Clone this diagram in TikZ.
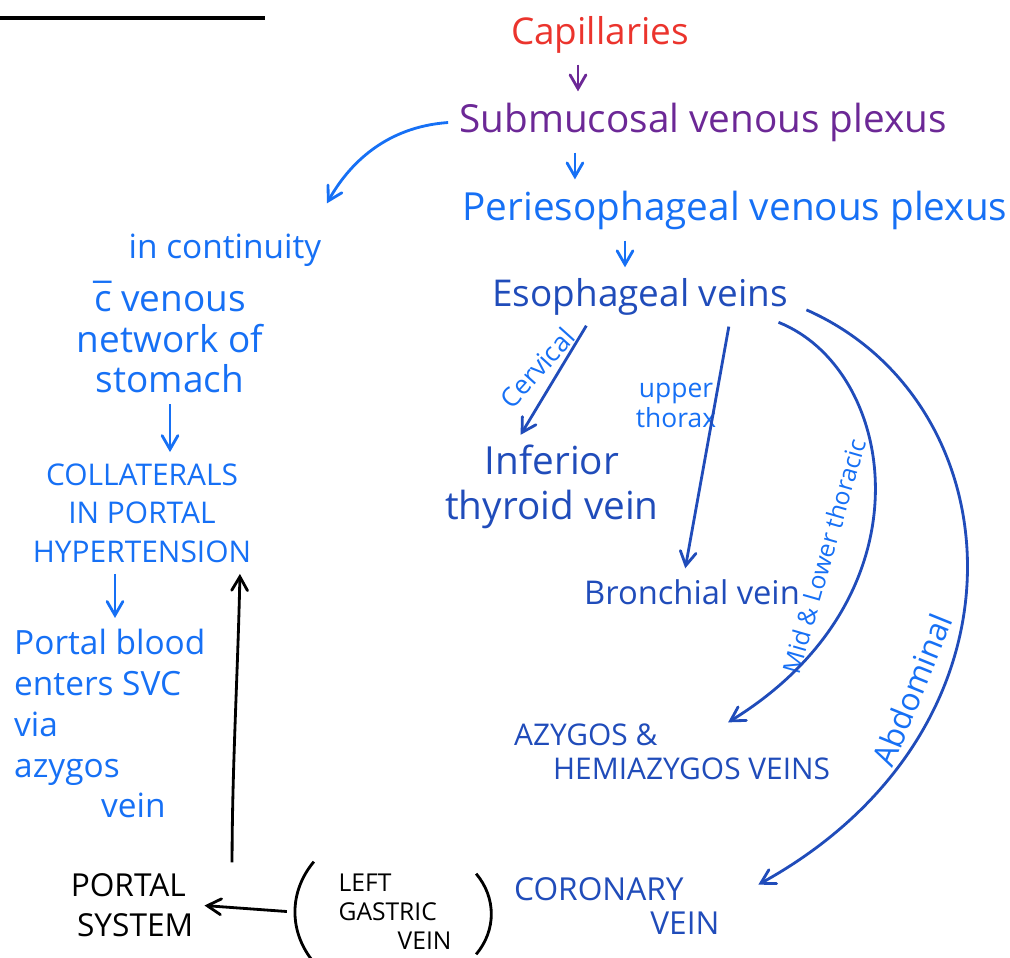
\documentclass[tikz,border=0pt]{standalone}
\usepackage{fontspec}
\setmainfont{Open Sans}
\usetikzlibrary{positioning,calc,arrows}
\definecolor{capred}{RGB}{235,52,45}
\definecolor{plexpurple}{RGB}{108,40,150}
\definecolor{lightblue}{RGB}{22,112,245}
\definecolor{darkblue}{RGB}{32,76,186}
\newcommand{\hw}[2]{\fontsize{#1}{#2}\selectfont}
\newcommand{\cbar}{\accent"AF c}
\tikzstyle{txt} = [inner sep=1pt]
\tikzstyle{tag} = [inner sep=1pt, text=lightblue]
\tikzstyle{to} = [->,>=angle 60,thick,shorten >=2pt,shorten <=2pt]

\begin{document}
\begin{tikzpicture}[x=0.01cm, y=-0.01cm]
	\useasboundingbox (0,0) rectangle (1010,957);
	\draw [line width=1.1pt] (0,18) -- (265,18);
	% main chain
	\node (cap) [txt, text=capred, font=\hw{10.5}{12}] at (600,35) {Capillaries};
	\node (smp) [txt, text=plexpurple, font=\hw{11}{13}] at (703,122) {Submucosal venous plexus};
	\node (pep) [txt, text=lightblue, font=\hw{11}{13}] at (735,210) {Periesophageal venous plexus};
	\node (esv) [txt, text=darkblue, font=\hw{10.5}{13}] at (640,297) {Esophageal veins};
	% left column
	\node (cont) [txt, text=lightblue, font=\hw{9.5}{12}] at (225,250) {in continuity};
	\node (net) [txt, text=lightblue, font=\hw{10.5}{11.5}, align=center] at (170,337) {\cbar{} venous\\network of\\stomach};
	\node (coll) [txt, text=lightblue, font=\hw{8.5}{11}, align=center] at (142,513) {COLLATERALS\\IN PORTAL\\HYPERTENSION};
	\node (portb) [txt, text=lightblue, font=\hw{9.5}{11.6}, align=left, anchor=north west] at (10,625) {Portal blood\\enters SVC\\via\\azygos\\\hspace*{2.6em}vein};
	\node (portsys) [txt, font=\hw{9}{11.3}, align=left] at (132,905) {PORTAL\\\hspace*{0.2em}SYSTEM};
	\node (lgv) [txt, font=\hw{7}{8.2}, align=left, inner xsep=0.32cm, inner ysep=0.12cm] at (395,912) {LEFT\\GASTRIC\\\hspace*{2.4em}VEIN};
	\node (cor) [txt, text=darkblue, font=\hw{9}{9.8}, align=left, anchor=north west] at (510,873) {CORONARY\\\hspace*{4.3em}VEIN};
	% right side
	\node (thy) [txt, text=darkblue, font=\hw{11}{12.8}, align=center] at (552,487) {Inferior\\thyroid vein};
	\node (bron) [txt, text=darkblue, font=\hw{9.3}{11}] at (692,592) {Bronchial vein};
	\node (azy) [txt, text=darkblue, font=\hw{8.5}{9.6}, align=left, anchor=north west] at (510,720) {AZYGOS \&\\\hspace*{1.3em}HEMIAZYGOS VEINS};
	% route labels
	\node (cerv) [tag, font=\hw{7.5}{9}, rotate=48] at (537,368) {Cervical};
	\node (upth) [tag, font=\hw{7.5}{8.5}, align=center] at (676,405) {upper\\thorax};
	\node (midlow) [tag, font=\hw{7}{9}, rotate=74] at (824,556) {Mid \& Lower thoracic};
	\node (abdo) [tag, font=\hw{9}{11}, rotate=68] at (912,690) {Abdominal};
	% arrows
	\draw [to, plexpurple] ([xshift=-0.22cm]cap.south) -- ([xshift=-0.22cm]cap.south |- smp.north);
	\draw [to, lightblue] ([xshift=-1.28cm]smp.south) -- ([xshift=-1.28cm]smp.south |- pep.north);
	\draw [to, lightblue] ([xshift=-0.15cm]esv.north |- pep.south) -- ([xshift=-0.15cm]esv.north);
	\draw [to, lightblue] (smp.west) .. controls +(-70,5) and +(25,-45) .. ([shift={(-0.02cm,0.2cm)}]cont.north east);
	\draw [to, lightblue] (net.south) -- (net.south |- coll.north);
	\draw [to, lightblue] ([xshift=-0.27cm]coll.south) -- ([xshift=-0.27cm]coll.south |- portb.north);
	\draw [to, darkblue] ([xshift=-0.5cm]esv.south) -- ([xshift=-0.35cm]thy.north);
	\draw [to, darkblue] ([xshift=0.9cm]esv.south) -- ([xshift=-0.08cm]bron.north);
	\draw [to, darkblue] ([xshift=-0.2cm]esv.south east) .. controls +(125,50) and +(212,-130) .. ([shift={(2.12cm,-0.06cm)}]azy.north west);
	\draw [to, darkblue] ([shift={(0.08cm,-0.1cm)}]esv.east) .. controls +(215,95) and +(290,-160) .. ([shift={(2.42cm,-0.15cm)}]cor.north west);
	\draw [to] ([xshift=-0.12cm]lgv.west) -- (portsys.east);
	\draw [to] ([xshift=1cm]portsys.north) .. controls +(0,-100) and +(-2,100) .. ([xshift=1.08cm]portsys.north |- coll.south);
	% brackets round left gastric vein
	\draw [thick] ([xshift=0.08cm]lgv.north west) to[bend right=40] ([xshift=0.08cm]lgv.south west);
	\draw [thick] ([shift={(-0.08cm,-0.12cm)}]lgv.north east) to[bend left=40] ([shift={(-0.08cm,0.08cm)}]lgv.south east);
\end{tikzpicture}
\end{document}
